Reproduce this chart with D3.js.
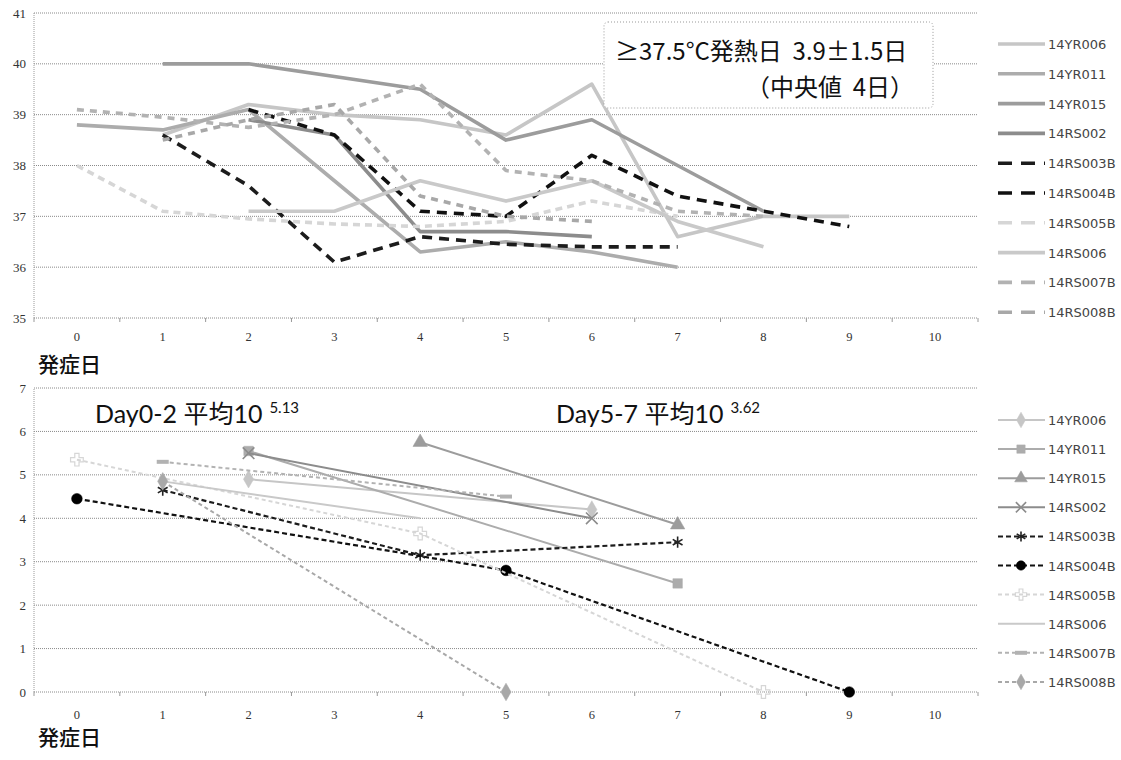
<!DOCTYPE html>
<html><head><meta charset="utf-8">
<script src="https://cdn.jsdelivr.net/npm/d3@7"></script>
<style>
html,body{margin:0;padding:0;background:#fff;}
svg{display:block;}
text{white-space:pre;}
</style></head>
<body>
<svg id="chart" width="1121" height="760"></svg>
<script>
// ---------- DATA ----------
const days = [0,1,2,3,4,5,6,7,8,9,10];
const seriesNames = ["14YR006","14YR011","14YR015","14RS002","14RS003B","14RS004B","14RS005B","14RS006","14RS007B","14RS008B"];
const tempTicks = [35,36,37,38,39,40,41];
const virusTicks = [0,1,2,3,4,5,6,7];

// body temperature (°C) by day since onset
const feverYR006  = [null, 38.6, 39.2, 39.0, 38.9, 38.6, 39.6, 36.6, 37.0, 37.0, null];
const feverYR011  = [38.8, 38.7, 39.1, 37.7, 36.3, 36.5, 36.3, 36.0, null, null, null];
const feverYR015  = [null, 40.0, 40.0, 39.75, 39.5, 38.5, 38.9, 38.0, 37.1, null, null];
const feverRS002  = [null, null, 38.9, 38.6, 36.7, 36.7, 36.6, null, null, null, null];
const feverRS003B = [null, 38.6, 37.6, 36.1, 36.6, 36.45, 36.4, 36.4, null, null, null];
const feverRS004B = [null, null, 39.1, 38.6, 37.1, 37.0, 38.2, 37.4, 37.1, 36.8, null];
const feverRS005B = [38.0, 37.1, 36.95, 36.85, 36.8, 36.9, 37.3, 37.0, null, null, null];
const feverRS006  = [null, null, 37.1, 37.1, 37.7, 37.3, 37.7, 36.9, 36.4, null, null];
const feverRS007B = [39.1, 38.95, 38.75, 39.0, 39.6, 37.9, 37.7, 37.1, 37.0, null, null];
const feverRS008B = [null, 38.5, 38.9, 39.2, 37.4, 37.0, 36.9, null, null, null, null];

// virus titre (log10) by day since onset
const virusYR006  = [null, null, 4.9, null, null, null, 4.2, null, null, null, null];
const virusYR011  = [null, null, 5.55, null, null, null, null, 2.5, null, null, null];
const virusYR015  = [null, null, null, null, 5.75, null, null, 3.85, null, null, null];
const virusRS002  = [null, null, 5.5, null, null, null, 4.0, null, null, null, null];
const virusRS003B = [null, 4.65, null, null, 3.15, null, null, 3.45, null, null, null];
const virusRS004B = [4.45, null, null, null, null, 2.8, null, null, null, 0, null];
const virusRS005B = [5.35, null, null, null, 3.65, null, null, null, 0, null, null];
const virusRS006  = [null, 4.85, null, null, 4.0, null, null, null, null, null, null];
const virusRS007B = [null, 5.3, null, null, null, 4.5, null, null, null, null, null];
const virusRS008B = [null, 4.85, null, null, null, 0, null, null, null, null, null];

const feverData = [feverYR006,feverYR011,feverYR015,feverRS002,feverRS003B,feverRS004B,feverRS005B,feverRS006,feverRS007B,feverRS008B];
const virusData = [virusYR006,virusYR011,virusYR015,virusRS002,virusRS003B,virusRS004B,virusRS005B,virusRS006,virusRS007B,virusRS008B];

// ---------- STYLES ----------
const colors  = ["#c6c6c6","#acacac","#9c9c9c","#8c8c8c","#1c1c1c","#111111","#d6d6d6","#c9c9c9","#b2b2b2","#a8a8a8"];
const dashTop = [null,null,null,null,"10,7","10,7","7,5",null,"7,6","7,6"];
const dashBot = [null,null,null,null,"5,3","5,3","4,3",null,"4,3","4,3"];
const symbols = ["diamond","square","triangle","times","asterisk","circle","plus",null,"dash","diamond"];

const svg = d3.select("#chart");
const X0 = 34, X1 = 978;
const x = d3.scaleBand().domain(days).range([X0, X1]).paddingInner(0).paddingOuter(0);
const cx = d => x(d) + x.bandwidth()/2;

const yTop = d3.scaleLinear().domain([35,41]).range([318,13]);
const yBot = d3.scaleLinear().domain([0,7]).range([692,388]);

function drawFrame(y, ticks, labelY) {
  const g = svg.append("g");
  g.selectAll("line.grid").data(ticks).enter().append("line")
    .attr("x1", X0).attr("x2", X1)
    .attr("y1", d => y(d)).attr("y2", d => y(d))
    .attr("stroke", "#8a8a8a").attr("stroke-width", 1).attr("stroke-dasharray", "1,1");
  g.append("line").attr("x1", X0).attr("x2", X0)
    .attr("y1", y(ticks[0])).attr("y2", y(ticks[ticks.length-1]))
    .attr("stroke", "#9a9a9a").attr("stroke-width", 1).attr("stroke-dasharray", "1,1");
  g.selectAll("text.yl").data(ticks).enter().append("text")
    .attr("x", 26).attr("y", d => y(d) + 4.5)
    .attr("text-anchor", "end")
    .attr("font-family", "Liberation Serif, serif").attr("font-size", 13)
    .attr("fill", "#333").text(d => d);
  const bounds = days.map(d => x(d)).concat([X1]);
  g.selectAll("line.xt").data(bounds).enter().append("line")
    .attr("x1", d => d).attr("x2", d => d)
    .attr("y1", y(ticks[0])).attr("y2", y(ticks[0]) + 4)
    .attr("stroke", "#999").attr("stroke-width", 1);
  g.selectAll("text.xl").data(days).enter().append("text")
    .attr("x", d => cx(d)).attr("y", labelY)
    .attr("text-anchor", "middle")
    .attr("font-family", "Liberation Serif, serif").attr("font-size", 12.5)
    .attr("fill", "#333").text(d => d);
}

drawFrame(yTop, tempTicks, 341);
drawFrame(yBot, virusTicks, 719);

[372, 745].forEach(yy => {
  svg.append("text").attr("x", 38).attr("y", yy)
    .attr("font-family", "Noto Sans CJK JP").attr("font-size", 21).attr("font-weight", 500)
    .attr("fill", "#111").text("発症日");
});

// ---------- TOP LINES ----------
const lineTop = d3.line().defined(d => d.v != null).x(d => cx(d.d)).y(d => yTop(d.v));
feverData.forEach((arr, i) => {
  const pts = days.map((d, k) => ({d, v: arr[k]}));
  svg.append("path").datum(pts)
    .attr("d", lineTop)
    .attr("fill", "none")
    .attr("stroke", colors[i])
    .attr("stroke-width", 3.6)
    .attr("stroke-linejoin", "round")
    .attr("stroke-dasharray", dashTop[i]);
});

// text box
const box = svg.append("g");
box.append("rect").attr("x", 604).attr("y", 22).attr("width", 329).attr("height", 86)
  .attr("rx", 4).attr("fill", "#fff").attr("stroke", "#999").attr("stroke-dasharray", "1,2");
box.append("text").attr("x", 615).attr("y", 60)
  .attr("font-family", "Noto Sans CJK JP").attr("font-size", 24).attr("fill", "#111")
  .text("≥37.5°C発熱日  3.9±1.5日");
box.append("text").attr("x", 914).attr("y", 96).attr("text-anchor", "end")
  .attr("font-family", "Noto Sans CJK JP").attr("font-size", 24).attr("fill", "#111")
  .text("（中央値  4日）");

// ---------- BOTTOM LINES ----------
const lineBot = d3.line().x(d => cx(d.d)).y(d => yBot(d.v));
function symbolPath(name, size) {
  const map = {
    diamond: d3.symbolDiamond, square: d3.symbolSquare, triangle: d3.symbolTriangle,
    circle: d3.symbolCircle, plus: d3.symbolCross,
    times: d3.symbolTimes || d3.symbolCross, asterisk: d3.symbolAsterisk || d3.symbolCross
  };
  return d3.symbol().type(map[name]).size(size)();
}
function drawMarker(g, name, px, py, col, big) {
  if (!name) return;
  if (name === "dash") {
    g.append("rect").attr("x", px - 6).attr("y", py - 2).attr("width", 12).attr("height", 4)
      .attr("fill", col);
    return;
  }
  const stroked = (name === "times" || name === "asterisk");
  const p = g.append("path").attr("d", symbolPath(name, big ? 90 : 70))
    .attr("transform", `translate(${px},${py})`);
  if (stroked) p.attr("fill", "none").attr("stroke", col).attr("stroke-width", 1.6);
  else if (name === "plus") p.attr("fill", "none").attr("stroke", col).attr("stroke-width", 1.2);
  else p.attr("fill", col).attr("stroke", col).attr("stroke-width", 0.5);
}

virusData.forEach((arr, i) => {
  const pts = days.map((d, k) => ({d, v: arr[k]})).filter(p => p.v != null);
  const g = svg.append("g");
  g.append("path").datum(pts)
    .attr("d", lineBot).attr("fill", "none")
    .attr("stroke", colors[i])
    .attr("stroke-width", (i === 4 || i === 5) ? 2.2 : 2)
    .attr("stroke-dasharray", dashBot[i]);
  pts.forEach(p => drawMarker(g, symbols[i], cx(p.d), yBot(p.v), i === 5 ? "#000" : (i === 4 ? "#222" : colors[i]), true));
});

// annotations
function supText(xp, yp, main, sup) {
  const t = svg.append("text").attr("x", xp).attr("y", yp)
    .attr("font-family", "Lato, Noto Sans CJK JP").attr("font-size", 25).attr("fill", "#111");
  t.append("tspan").text(main);
  t.append("tspan").attr("dx", 7).attr("dy", -10).attr("font-size", 15).text(sup);
}
supText(95, 423, "Day0-2 平均10", "5.13");
supText(556, 423, "Day5-7 平均10", "3.62");

// ---------- LEGENDS ----------
function legend(y0, step, bottom) {
  seriesNames.forEach((name, i) => {
    const yy = y0 + i * step;
    const g = svg.append("g");
    g.append("line").attr("x1", 998).attr("x2", 1045).attr("y1", yy).attr("y2", yy)
      .attr("stroke", colors[i])
      .attr("stroke-width", bottom ? 2 : 3.6)
      .attr("stroke-dasharray", bottom ? dashBot[i] : (dashTop[i] ? "14,9" : null));
    if (bottom) drawMarker(g, symbols[i], 1021, yy, i === 5 ? "#000" : (i === 4 ? "#222" : colors[i]), false);
    g.append("text").attr("x", 1048).attr("y", yy + 5)
      .attr("font-family", "DejaVu Sans").attr("font-size", 13).attr("fill", "#444")
      .text(name);
  });
}
legend(44, 29.8, false);
legend(420, 29.1, true);
</script>
</body></html>
